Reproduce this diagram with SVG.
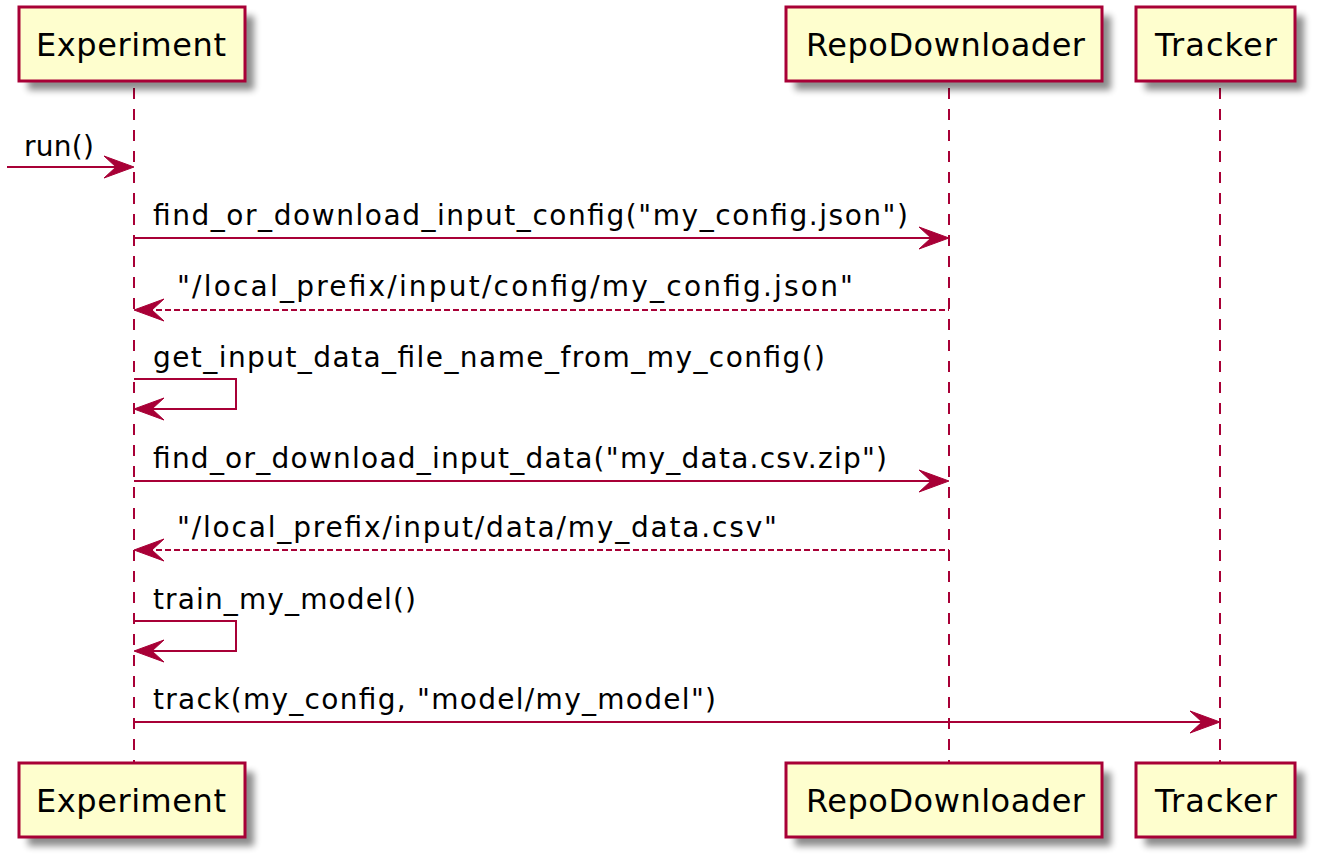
<svg xmlns="http://www.w3.org/2000/svg" width="1318" height="860" viewBox="0 0 1318 860">
<defs>
<filter id="sh" x="-20%" y="-20%" width="150%" height="160%">
<feGaussianBlur stdDeviation="3.5"/>
</filter>
<style>
.box{fill:#FEFECE;stroke:#A80036;stroke-width:3}
.shadow{fill:#000;opacity:0.45;filter:url(#sh)}
.life{stroke:#A80036;stroke-width:2;stroke-dasharray:11,10;fill:none}
.msg{stroke:#A80036;stroke-width:2;fill:none}
.ret{stroke:#A80036;stroke-width:2;stroke-dasharray:6,3;fill:none}
.head{fill:#A80036;stroke:#A80036;stroke-width:1}
.pt{font-family:"DejaVu Sans",sans-serif;font-size:32px;fill:#000}
.mt{font-family:"DejaVu Sans",sans-serif;font-size:28px;fill:#000}
</style>
</defs>
<g id="lifelines">
<line class="life" x1="134" y1="88" x2="134" y2="762"/>
<line class="life" x1="949" y1="88" x2="949" y2="762"/>
<line class="life" x1="1220" y1="88" x2="1220" y2="762"/>
</g>
<g id="Experiment">
<rect class="shadow" x="28" y="16" width="226" height="74"/>
<rect class="box" x="19" y="7" width="226" height="74"/>
<text class="pt" x="36" y="56" textLength="190">Experiment</text>
</g>
<g id="RepoDownloader">
<rect class="shadow" x="795" y="16" width="316" height="74"/>
<rect class="box" x="786" y="7" width="316" height="74"/>
<text class="pt" x="806" y="56" textLength="279">RepoDownloader</text>
</g>
<g id="Tracker">
<rect class="shadow" x="1145" y="16" width="159" height="74"/>
<rect class="box" x="1136" y="7" width="159" height="74"/>
<text class="pt" x="1155" y="56" textLength="122">Tracker</text>
</g>
<g id="Experiment_bottom">
<rect class="shadow" x="28" y="772" width="226" height="74"/>
<rect class="box" x="19" y="763" width="226" height="74"/>
<text class="pt" x="36" y="812" textLength="190">Experiment</text>
</g>
<g id="RepoDownloader_bottom">
<rect class="shadow" x="795" y="772" width="316" height="74"/>
<rect class="box" x="786" y="763" width="316" height="74"/>
<text class="pt" x="806" y="812" textLength="279">RepoDownloader</text>
</g>
<g id="Tracker_bottom">
<rect class="shadow" x="1145" y="772" width="159" height="74"/>
<rect class="box" x="1136" y="763" width="159" height="74"/>
<text class="pt" x="1155" y="812" textLength="122">Tracker</text>
</g>
<g id="connectors">
<line class="msg" x1="7" y1="167" x2="130" y2="167"/>
<polygon class="head" points="134,167 104,156 116,167 104,178"/>
<text class="mt" x="24" y="156" textLength="70">run()</text>

<line class="msg" x1="134" y1="238" x2="945" y2="238"/>
<polygon class="head" points="949,238 919,227 931,238 919,249"/>
<text class="mt" x="153" y="225" textLength="755">find_or_download_input_config("my_config.json")</text>

<line class="ret" x1="138" y1="310" x2="949" y2="310"/>
<polygon class="head" points="134,310 164,299 152,310 164,321"/>
<text class="mt" x="177" y="296" textLength="676">"/local_prefix/input/config/my_config.json"</text>

<polyline class="msg" points="134,379 236,379 236,409 138,409"/>
<polygon class="head" points="134,409 164,398 152,409 164,420"/>
<text class="mt" x="153" y="367" textLength="672">get_input_data_file_name_from_my_config()</text>

<line class="msg" x1="134" y1="481" x2="945" y2="481"/>
<polygon class="head" points="949,481 919,470 931,481 919,492"/>
<text class="mt" x="153" y="468" textLength="734">find_or_download_input_data("my_data.csv.zip")</text>

<line class="ret" x1="138" y1="550" x2="949" y2="550"/>
<polygon class="head" points="134,550 164,539 152,550 164,561"/>
<text class="mt" x="177" y="537" textLength="600">"/local_prefix/input/data/my_data.csv"</text>

<polyline class="msg" points="134,621 236,621 236,651 138,651"/>
<polygon class="head" points="134,651 164,640 152,651 164,662"/>
<text class="mt" x="153" y="609" textLength="263">train_my_model()</text>

<line class="msg" x1="134" y1="722" x2="1216" y2="722"/>
<polygon class="head" points="1220,722 1190,711 1202,722 1190,733"/>
<text class="mt" x="153" y="709" textLength="563">track(my_config, "model/my_model")</text>
</g>
</svg>
